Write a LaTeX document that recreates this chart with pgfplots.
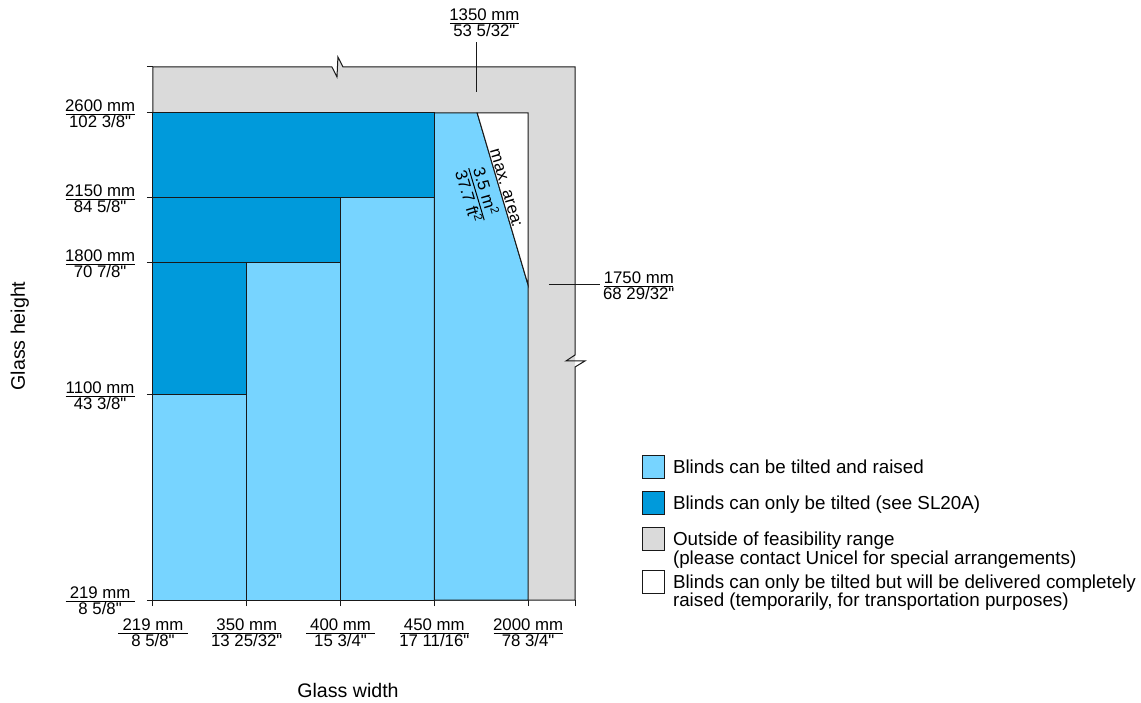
\documentclass[border=0pt]{standalone}
\usepackage{fontspec}
\setmainfont{Liberation Sans}
\newfontfamily\qfont{Liberation Sans}
\usepackage{array}
\usepackage{pgfplots}
\pgfplotsset{compat=1.18}
\definecolor{lb}{RGB}{119,212,255}
\definecolor{db}{RGB}{0,154,219}
\definecolor{gr}{RGB}{218,218,218}
\definecolor{ln}{RGB}{25,25,25}
\setlength\arrayrulewidth{0.5pt}
\newcommand\dq{{\qfont"}}
\newcommand\frn[2]{{\renewcommand\arraystretch{0}\raisebox{-7.45pt}{\begin{tabular}[b]{@{}c@{}}\rule[-1.5pt]{0pt}{7pt}#1\\\hline\rule[-1pt]{0pt}{7.2pt}#2\end{tabular}}}}
\newcommand\fr[2]{\frn{\makebox[34.5pt]{#1}}{\makebox[34.5pt]{#2}}}
\newcommand\tfont{\fontsize{8.4}{10}\selectfont}
\pgfplotsset{
  reg/.style={forget plot, draw=ln, line width=0.5pt},
  boxleg/.style={legend image code/.code={\draw[##1, line width=0.5pt] (0pt,-2.5pt) rectangle (11pt,9pt);}}
}
\begin{document}
\begin{tikzpicture}
\useasboundingbox (0,0) rectangle (570.5pt,351pt);
\begin{axis}[
  at={(76.5pt,51pt)}, anchor=south west,
  scale only axis, width=211pt, height=266.5pt,
  xmin=0, xmax=4.5, ymin=0, ymax=533,
  clip=false,
  axis line style={draw=none},
  tick align=outside, major tick length=3pt,
  tick style={ln, line width=0.5pt},
  xtick pos=left, ytick pos=left,
  xtick={0,1,2,3,4,4.5},
  xticklabels={{\fr{219 mm}{8 5/8\dq}},{\fr{350 mm}{13 25/32\dq}},{\fr{400 mm}{15 3/4\dq}},{\fr{450 mm}{17 11/16\dq}},{\fr{2000 mm}{78 3/4\dq}},{}},
  ytick={0,205,337,402,487,533},
  yticklabels={{\fr{219 mm}{8 5/8\dq}},{\fr{1100 mm}{43 3/8\dq}},{\fr{1800 mm}{70 7/8\dq}},{\fr{2150 mm}{84 5/8\dq}},{\fr{2600 mm}{102 3/8\dq}},{}},
  xticklabel style={font=\tfont, anchor=base, inner sep=0pt, yshift=-13pt},
  yticklabel style={font=\tfont, anchor=base east, inner sep=0pt, xshift=-6pt},
  xlabel={Glass width},
  xlabel style={at={(axis description cs:0.4621,-0.1689)}, anchor=center, font=\fontsize{9.8}{12}\selectfont, inner sep=0pt},
  ylabel={Glass height},
  ylabel style={at={(axis description cs:-0.3156,0.4953)}, anchor=center, font=\fontsize{9.8}{12}\selectfont, inner sep=0pt},
  legend style={at={(1.1588,0.2720)}, anchor=north west, draw=none, fill=none,
    inner sep=0pt, outer sep=0pt, row sep=0pt, column sep=4pt,
    font=\fontsize{9.4}{7.6}\selectfont,
    cells={anchor=base west}, nodes={inner sep=0pt, text depth=}},
]
% outside of feasibility range (grey)
\addplot[forget plot, fill=gr, draw=none] coordinates {(0,0) (0,533) (1.908,533) (1.962,523) (1.972,543) (2.026,533) (4.5,533) (4.5,0)} -- cycle;
\addplot[reg] coordinates {(0,0) (0,533) (1.908,533) (1.962,523) (1.972,543) (2.026,533) (4.5,533) (4.5,245) (4.403,239) (4.606,239) (4.5,233) (4.5,0) (0,0)};
% light blue: blinds can be tilted and raised
\addplot[reg, fill=lb] coordinates {(0,0) (1,0) (1,205) (0,205)} -- cycle;
\addplot[reg, fill=lb] coordinates {(1,0) (2,0) (2,337) (1,337)} -- cycle;
\addplot[reg, fill=lb] coordinates {(2,0) (3,0) (3,402) (2,402)} -- cycle;
\addplot[reg, fill=lb] coordinates {(3,0) (4,0) (4,315) (3.457,487) (3,487)} -- cycle;
% dark blue: blinds can only be tilted
\addplot[reg, fill=db] coordinates {(0,205) (1,205) (1,337) (0,337)} -- cycle;
\addplot[reg, fill=db] coordinates {(0,337) (2,337) (2,402) (0,402)} -- cycle;
\addplot[reg, fill=db] coordinates {(0,402) (3,402) (3,487) (0,487)} -- cycle;
% white: beyond max. area
\addplot[reg, fill=white] coordinates {(3.457,487) (4,487) (4,315)} -- cycle;
% dimension lines
\addplot[reg] coordinates {(3.451,508) (3.451,558)};
\addplot[reg] coordinates {(4.222,315) (4.765,315)};
\node[anchor=base, inner sep=0pt, font=\tfont] at (axis cs:3.534,578.3) {\fr{1350 mm}{53 5/32\dq}};
\node[anchor=base west, inner sep=0pt, font=\tfont] at (axis cs:4.808,315) {\fr{1750 mm}{68 29/32\dq}};
\node[anchor=base, rotate=-73.4, inner sep=0pt, font=\tfont] at (axis cs:3.716,410.3) {max. area:};
\node[anchor=base, rotate=-73.4, inner sep=0pt, font=\tfont] at (axis cs:3.455,406) {\frn{3.5 m\textsuperscript{2}}{37.7 ft\textsuperscript{2}}};
% legend
\addlegendimage{boxleg, fill=lb, draw=ln}
\addlegendentry{\rule[-8.5pt]{0pt}{0pt}Blinds can be tilted and raised}
\addlegendimage{boxleg, fill=db, draw=ln}
\addlegendentry{\rule[-9.15pt]{0pt}{0pt}Blinds can only be tilted (see SL20A)}
\addlegendimage{boxleg, fill=gr, draw=ln}
\addlegendentry{\rule[-12.2pt]{0pt}{0pt}\begin{tabular}[t]{@{}l@{}}Outside of feasibility range\\(please contact Unicel for special arrangements)\end{tabular}}
\addlegendimage{boxleg, fill=white, draw=ln}
\addlegendentry{\begin{tabular}[t]{@{}l@{}}Blinds can only be tilted but will be delivered completely\\raised (temporarily, for transportation purposes)\end{tabular}}
\end{axis}
\end{tikzpicture}
\end{document}
